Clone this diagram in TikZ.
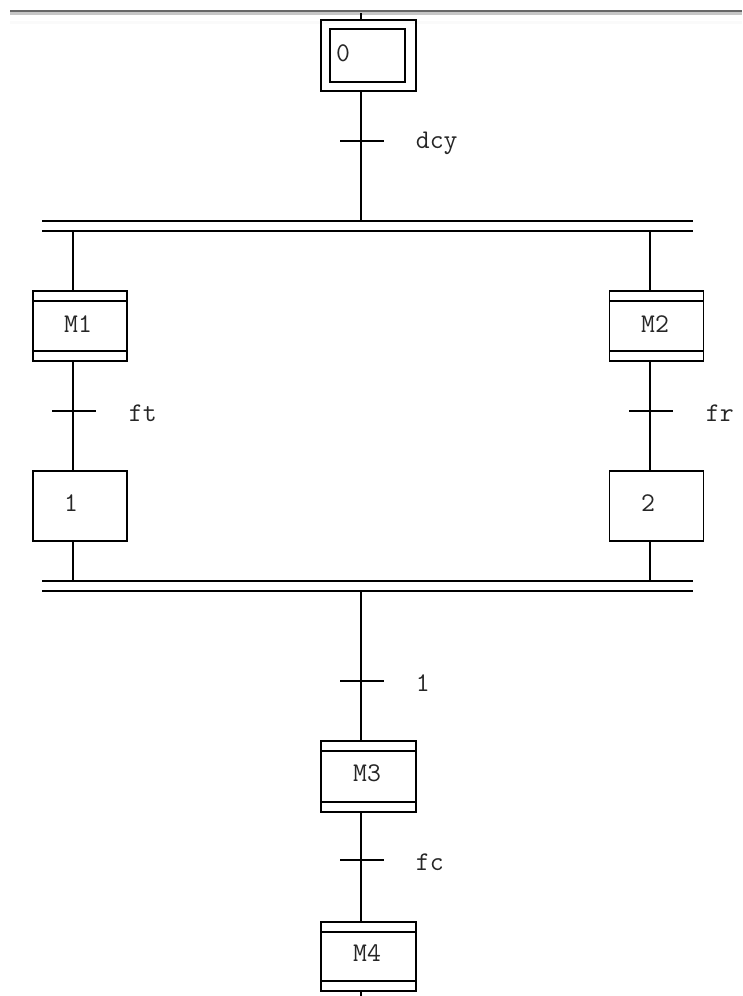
\documentclass[tikz,border=0pt]{standalone}
\usetikzlibrary{calc}
\begin{document}
\begin{tikzpicture}[x=1pt,y=-1pt,
  every path/.style={line width=1.7pt},
  stepbox/.style={draw, rectangle, inner sep=0pt, minimum width=94pt, minimum height=70pt},
  initstep/.style={stepbox, minimum width=95pt, minimum height=71pt,
    append after command={
      \pgfextra{\draw ($(\tikzlastnode.north west)+(10,10)$) rectangle ($(\tikzlastnode.south east)+(-12,-10)$);}}},
  macrostep/.style={stepbox,
    path picture={
      \draw ($(path picture bounding box.north west)+(0,10)$) -- ($(path picture bounding box.north east)+(0,10)$);
      \draw ($(path picture bounding box.south west)+(0,-10)$) -- ($(path picture bounding box.south east)+(0,-10)$);}},
  txt/.style={font=\ttfamily\fontsize{27}{27}\selectfont, inner sep=0pt, text=black!85},
  tick/.style={line width=1.7pt}
]
\useasboundingbox (0,0) rectangle (742,996);

% window edge along the top
\fill[black!60] (10,10) rectangle (742,12);
\fill[gray!45] (10,12) rectangle (742,14.5);
\fill[gray!4] (10,21) rectangle (742,24);

% columns
\coordinate (cC) at (361,0);
\coordinate (cL) at (73,0);
\coordinate (cR) at (650,0);
\coordinate (top) at (361,13);
\coordinate (bot) at (361,996);

% steps
\node[initstep] (s0) at (368.5,55.5) {};
\node[txt] (t0) at (343,53) {0};
\node[macrostep] (m1) at (80,326) {};
\node[txt] at (78,324) {M1};
\node[macrostep] (m2) at (656.5,326) {};
\node[txt] at (655,324) {M2};
\node[stepbox] (s1) at (80,506) {};
\node[txt] at (71,503) {1};
\node[stepbox] (s2) at (656.5,506) {};
\node[txt] at (648,503) {2};
\node[macrostep, minimum width=95pt, minimum height=71pt] (m3) at (368.5,776.5) {};
\node[txt] at (367,773) {M3};
\node[macrostep, minimum width=95pt, minimum height=69pt] (m4) at (368.5,956.5) {};
\node[txt] at (367,953) {M4};

% simultaneous-sequence double bars
\coordinate (divA) at (42,221);
\coordinate (divB) at (693,221);
\coordinate (divC) at (42,231);
\coordinate (divD) at (693,231);
\coordinate (conA) at (42,581);
\coordinate (conB) at (693,581);
\coordinate (conC) at (42,591);
\coordinate (conD) at (693,591);
\draw (divA) -- (divB);
\draw (divC) -- (divD);
\draw (conA) -- (conB);
\draw (conC) -- (conD);

% transitions
\coordinate (tr0) at (361,141);
\coordinate (trL) at (73,411);
\coordinate (trR) at (650,411);
\coordinate (tr1) at (361,681);
\coordinate (tr2) at (361,860);

% links
\draw (top) -- (s0.north -| cC);
\draw (s0.south -| cC) -- (divA -| cC);
\draw (divC -| cL) -- (m1.north -| cL);
\draw (divC -| cR) -- (m2.north -| cR);
\draw (m1.south -| cL) -- (s1.north -| cL);
\draw (m2.south -| cR) -- (s2.north -| cR);
\draw (s1.south -| cL) -- (conA -| cL);
\draw (s2.south -| cR) -- (conA -| cR);
\draw (conC -| cC) -- (m3.north -| cC);
\draw (m3.south -| cC) -- (m4.north -| cC);
\draw (m4.south -| cC) -- (bot);

% transition bars and receptivities
\foreach \t in {tr0,trL,trR,tr1,tr2}
  \draw[tick] ($(\t)+(-21,0)$) -- ($(\t)+(23,0)$);
\node[txt, anchor=west] (r0) at (415,143) {dcy};
\node[txt, anchor=west] (rL) at (128,413) {ft};
\node[txt, anchor=west] (rR) at (705,413) {fr};
\node[txt, anchor=west] (r1) at (415,683) {1};
\node[txt, anchor=west] (r2) at (415,862) {fc};
\end{tikzpicture}
\end{document}
